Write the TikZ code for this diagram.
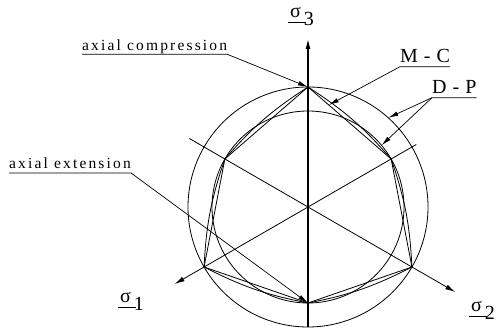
\documentclass[tikz,border=0pt]{standalone}
\usepackage{fontspec}
\setmainfont{Liberation Serif}
\newfontfamily\widefont[LetterSpace=14]{Liberation Serif}
\newfontfamily\capsfont[LetterSpace=5]{Liberation Serif}
\usepackage{tikz}
\usetikzlibrary{arrows.meta, calc}
\newcommand{\stresslabel}[1]{\rlap{\rule[-5pt]{18pt}{1pt}}\kern2pt σ\kern3pt\raisebox{-8pt}{#1}}
\tikzset{
    tag/.style={inner sep=0pt, text depth=4pt, anchor=south west, font=\widefont\fontsize{15.5}{17}\selectfont},
    captag/.style={tag, font=\capsfont\fontsize{20}{22}\selectfont},
    stress/.style={inner sep=0pt, anchor=base west, font=\fontsize{20}{22}\selectfont},
    curve/.style={line width=0.8pt},
    axis/.style={line width=0.8pt, -{Latex[length=10pt, width=5pt]}},
    arrow/.style={line width=0.7pt, -{Latex[length=10pt, width=4.5pt]}}
}
\begin{document}
\begin{tikzpicture}[x=1pt, y=1pt]
    \useasboundingbox (0,0) rectangle (497,331);
    \coordinate (O) at (308,124);
    \coordinate (v90) at ($(O)+(90:120)$);
    \coordinate (v150) at ($(O)+(150:96)$);
    \coordinate (v210) at ($(O)+(210:120)$);
    \coordinate (v270) at ($(O)+(270:96)$);
    \coordinate (v330) at ($(O)+(330:120)$);
    \coordinate (v30) at ($(O)+(30:96)$);

    \draw [curve] (O) circle (120);
    \draw [curve] (O) circle (96);
    \draw [curve] (v90) -- (v150) -- (v210) -- (v270) -- (v330) -- (v30) -- cycle;
    \draw [curve] (v90) to[bend right=8] (v150) to[bend right=8] (v210) to[bend right=8] (v270)
        to[bend right=8] (v330) to[bend right=8] (v30) to[bend right=8] (v90);

    \coordinate (s3foot) at ($(O)+(270:120)$);
    \coordinate (s3tip) at ($(O)+(90:168)$);
    \coordinate (s1foot) at ($(O)+(30:125)$);
    \coordinate (s1tip) at ($(O)+(210:154)$);
    \coordinate (s2foot) at ($(O)+(150:137)$);
    \coordinate (s2tip) at ($(O)+(330:170)$);
    \draw [axis, line width=1.2pt] (s3foot) -- (s3tip);
    \draw [axis] (s1foot) -- (s1tip);
    \draw [axis] (s2foot) -- (s2tip);

    \node (sig3) [stress] at (288,313) {\stresslabel{3}};
    \node (sig1) [stress] at (118,28) {\stresslabel{1}};
    \node (sig2) [stress] at (469,19) {\stresslabel{2}};

    \node (comp) [tag] at (82,276.7) {axial compression};
    \node (ext) [tag] at (9,158) {axial extension};
    \node (mc) [captag] at (400,264.3) {M - C};
    \node (dp) [captag] at (432,233.3) {D - P};

    \coordinate (mcpt) at ($(v90)!0.25!(v30)$);
    \coordinate (dpout) at ($(O)+(48:120)$);
    \coordinate (dpin) at ($(O)+(40:96)$);

    \draw [arrow] (comp.south west) -- (comp.south east) -- (v90);
    \draw [arrow] (ext.south west) -- (ext.south east) -- (v270);
    \draw [arrow] (mc.south east) -- (mc.south west) -- (mcpt);
    \draw [arrow] (dp.south east) -- (dp.south west) -- (dpout);
    \draw [arrow] (dp.south west) -- (dpin);
\end{tikzpicture}
\end{document}
